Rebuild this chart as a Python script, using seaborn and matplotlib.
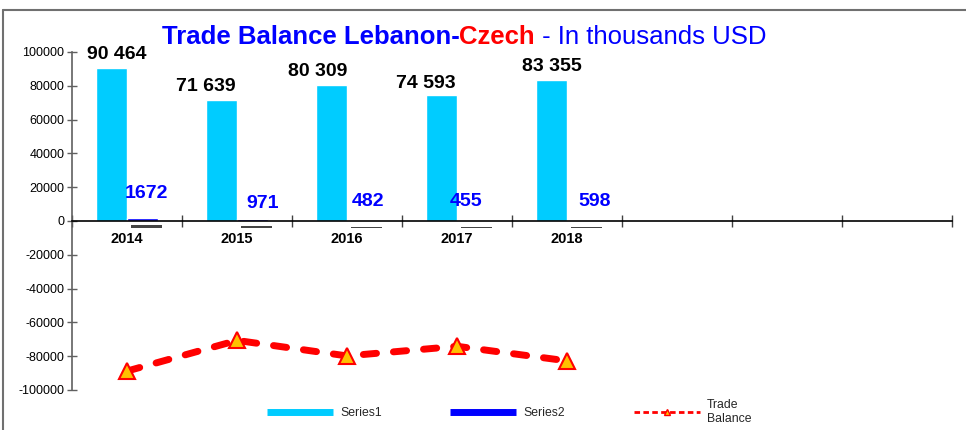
import matplotlib
matplotlib.use("Agg")
import matplotlib.pyplot as plt
import matplotlib.patheffects as pe
from matplotlib.lines import Line2D
import numpy as np
import pandas as pd
import seaborn as sns

# ---- data ----
years = ["2014", "2015", "2016", "2017", "2018"]
series1 = [90464, 71639, 80309, 74593, 83355]
series2 = [1672, 971, 482, 455, 598]
trade_balance = [s2 - s1 for s1, s2 in zip(series1, series2)]
series_names = ["Series1", "Series2"]
n_slots = 8
yticks = [-100000, -80000, -60000, -40000, -20000, 0, 20000, 40000, 60000, 80000, 100000]

c1, c2 = "#00CCFF", "#0000FF"

sns.set_theme(style="white")
plt.rcParams["font.family"] = ["Liberation Sans", "DejaVu Sans"]

df = pd.DataFrame({
    "year": years * 2,
    "value": series1 + series2,
    "series": [series_names[0]] * len(years) + [series_names[1]] * len(years),
})

fig = plt.figure(figsize=(9.66, 4.30), dpi=100)
ax = fig.add_axes([72 / 966, 1 - 390 / 430, 880 / 966, 338 / 430])

sns.barplot(data=df, x="year", y="value", hue="series", order=years,
            hue_order=series_names, palette=[c1, c2], width=0.564,
            saturation=1, errorbar=None, legend=False, ax=ax, zorder=2)

# shadow on Series2 bars
for p in ax.containers[1]:
    p.set_path_effects([pe.SimplePatchShadow(offset=(3, -5), shadow_rgbFace="#303030", alpha=0.9),
                        pe.Normal()])

x_pos = np.arange(len(years))
sns.lineplot(x=x_pos, y=trade_balance, ax=ax, color="red", lw=5,
             marker="^", markersize=11, markerfacecolor="#FFC000",
             markeredgecolor="red", markeredgewidth=1.5, zorder=4)
ln = ax.lines[-1]
ln.set_dashes((1.9, 2.45))
ln.set_dash_capstyle("round")

ax.set_xlim(-0.5, n_slots - 0.5)
ax.set_ylim(-100000, 100000)
ax.set_yticks(yticks)
ax.set_yticklabels([str(v) for v in yticks])
ax.set_xticks(x_pos)
ax.set_xticklabels(years)
ax.set_xticks(np.arange(n_slots + 1) - 0.5, minor=True)
ax.set_xlabel("")
ax.set_ylabel("")

for s in ["top", "right"]:
    ax.spines[s].set_visible(False)
ax.spines["bottom"].set_position(("data", 0))
ax.spines["bottom"].set_color("black")
ax.spines["bottom"].set_linewidth(1.2)
ax.spines["bottom"].set_zorder(3)
ax.spines["left"].set_color("#606060")
ax.spines["left"].set_linewidth(1.2)

ax.tick_params(axis="y", which="major", direction="inout", length=7, width=1,
               color="#606060", labelsize=9, pad=2, left=True, labelcolor="black")
ax.tick_params(axis="x", which="major", length=0, pad=8, labelsize=10.5, labelcolor="black")
ax.tick_params(axis="x", which="minor", direction="inout", length=8, width=1,
               color="#404040", bottom=True)
ax.grid(False)

# value labels
s1_dx = [4, -11, -10, -11, 0]
s1_dy = [3.5, 3.5, 3.5, 2, 3.5]
s2_dx = [3, 7, 4, -5, 9]
s2_dy = [11.5, 5.5, 7.5, 7.5, 7.5]
for p, v, dx, dy in zip(ax.containers[0], series1, s1_dx, s1_dy):
    cx = p.get_x() + p.get_width() / 2
    ax.annotate(f"{v:,}".replace(",", " "), xy=(cx, v), xytext=(dx, dy),
                textcoords="offset points", ha="center", va="bottom",
                fontsize=14, fontweight="bold", color="black")
for p, v, dx, dy in zip(ax.containers[1], series2, s2_dx, s2_dy):
    cx = p.get_x() + p.get_width() / 2
    ax.annotate(str(v), xy=(cx, v), xytext=(dx, dy),
                textcoords="offset points", ha="center", va="bottom",
                fontsize=14, fontweight="bold", color=c2)

# title in three colored parts
fig.canvas.draw()
for lbl in ax.get_xticklabels():
    lbl.set_fontweight("bold")
r = fig.canvas.get_renderer()
parts = [("Trade Balance Lebanon-", c2, "bold"), ("Czech", "red", "bold"),
         (" - In thousands USD", c2, "normal")]
texts = []
for s, c, w in parts:
    t = fig.text(0, 1 - 37 / 430, s, color=c, fontweight=w, fontsize=18.5,
                 va="center", ha="left")
    texts.append(t)
widths = [t.get_window_extent(r).width for t in texts]
total = sum(widths)
x0 = 464 - total / 2
for t, w in zip(texts, widths):
    t.set_x(x0 / 966)
    x0 += w

# legend
handles = [Line2D([], [], color=c1, lw=5, solid_capstyle="butt"),
           Line2D([], [], color=c2, lw=5, solid_capstyle="butt"),
           Line2D([], [], color="red", lw=2, ls=(0, (2, 1.2)), marker="^",
                  markersize=4, markerfacecolor="#FFC000", markeredgecolor="red")]
fig.legend(handles, ["Series1", "Series2", "Trade\nBalance"], loc="center",
           bbox_to_anchor=(0.527, 0.042), ncol=3, frameon=False, fontsize=8.8,
           handlelength=5.4, columnspacing=5.6, handletextpad=0.6)

# figure border (top and left)
fig.add_artist(Line2D([3 / 966, 3 / 966], [0, 1 - 10 / 430], color="#707070", lw=1.5,
                      transform=fig.transFigure))
fig.add_artist(Line2D([3 / 966, 1], [1 - 10 / 430, 1 - 10 / 430], color="#707070", lw=1.5,
                      transform=fig.transFigure))

fig.savefig("out.png", dpi=100)
